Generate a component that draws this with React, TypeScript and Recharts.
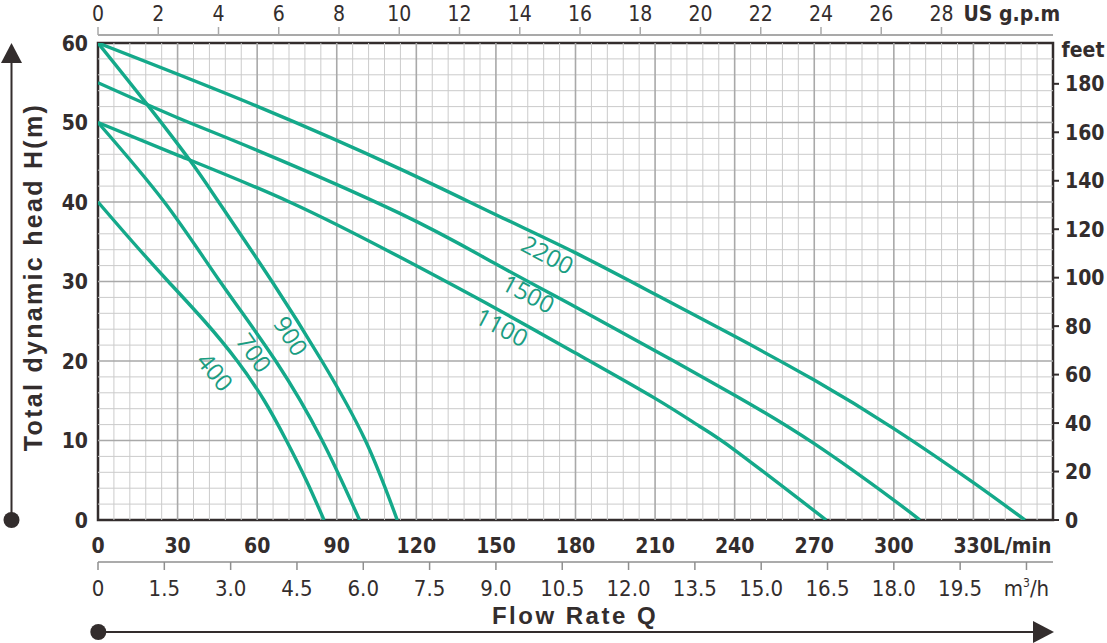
import React from 'react';
import {
  LineChart,
  Line,
  XAxis,
  YAxis,
  ReferenceLine,
  ReferenceArea,
  ReferenceDot,
} from 'recharts';

// pump curves, flow Q in L/min, head H in m
const curve400 = [
  { q: 0, h: 40 }, { q: 13, h: 35 }, { q: 26.5, h: 30 }, { q: 40.2, h: 25 },
  { q: 52.5, h: 20 }, { q: 62.7, h: 15 }, { q: 71, h: 10 }, { q: 78.5, h: 5 },
  { q: 85.2, h: 0 },
];
const curve700 = [
  { q: 0, h: 50 }, { q: 25, h: 40 }, { q: 46, h: 30 }, { q: 67, h: 20 },
  { q: 84.5, h: 10 }, { q: 98.6, h: 0 },
];
const curve900 = [
  { q: 0, h: 60 }, { q: 18.2, h: 52.4 }, { q: 34.5, h: 45.3 }, { q: 45.5, h: 40 },
  { q: 65.6, h: 30 }, { q: 84.4, h: 20 }, { q: 100.8, h: 10 }, { q: 112.8, h: 0 },
];
const curve1100 = [
  { q: 0, h: 50 }, { q: 30, h: 45.9 }, { q: 72.2, h: 40 }, { q: 113.6, h: 33.1 },
  { q: 150, h: 26.6 }, { q: 180, h: 21 }, { q: 210, h: 15.3 }, { q: 226.7, h: 11.8 },
  { q: 240, h: 8.8 }, { q: 274.5, h: 0 },
];
const curve1500 = [
  { q: 0, h: 55 }, { q: 30, h: 50.6 }, { q: 60, h: 46.5 }, { q: 113.6, h: 38.6 },
  { q: 150, h: 32.2 }, { q: 180, h: 26.8 }, { q: 210, h: 21.3 }, { q: 240, h: 15.7 },
  { q: 270, h: 9.6 }, { q: 300, h: 2.5 }, { q: 309.8, h: 0 },
];
const curve2200 = [
  { q: 0, h: 60 }, { q: 60.3, h: 52 }, { q: 113.6, h: 44.2 }, { q: 150, h: 38.4 },
  { q: 180, h: 33.6 }, { q: 210, h: 28.4 }, { q: 240, h: 23.1 }, { q: 270, h: 17.6 },
  { q: 300, h: 11.5 }, { q: 330, h: 4.7 }, { q: 349.4, h: 0 },
];

// curve names and where their labels sit (Q, H, angle)
const curveNames = ['400', '700', '900', '1100', '1500', '2200'];
const curveData = [curve400, curve700, curve900, curve1100, curve1500, curve2200];
const labelQ = [44, 58.7, 72.6, 152.2, 162.2, 169.4];
const labelH = [18.6, 21, 23.1, 24.2, 28.4, 33.3];
const labelAngle = [51, 55, 58, 28, 28, 28];

// axes
const lpmTicks = [0, 30, 60, 90, 120, 150, 180, 210, 240, 270, 300, 330];
const m3hTicks = [0, 1.5, 3, 4.5, 6, 7.5, 9, 10.5, 12, 13.5, 15, 16.5, 18, 19.5, 21];
const gpmTicks = [0, 2, 4, 6, 8, 10, 12, 14, 16, 18, 20, 22, 24, 26, 28];
const headTicks = [0, 10, 20, 30, 40, 50, 60];
const feetTicks = [0, 20, 40, 60, 80, 100, 120, 140, 160, 180];
const minorQ = Array.from({ length: 59 }, (_, i) => (i + 1) * 6).filter((v) => v % 30 !== 0);
const majorQ = lpmTicks.slice(1);
const minorH = Array.from({ length: 29 }, (_, i) => (i + 1) * 2).filter((v) => v % 10 !== 0);
const majorH = headTicks.slice(1, -1);

const Q_MAX = 360; // L/min at the right edge
const LPM_PER_GPM = 11.356;
const M3H_PER_LPM = 0.06;
const FT_PER_M = 3.2808;

// chart-level rows so the unit-only axes get a domain
const flowRows = [...lpmTicks, Q_MAX].map((q) => ({ q }));

const TEAL = '#14a98a';
const LABEL_TEAL = '#1a9d82';
const INK = '#332d2d';
const COND = '"DejaVu Sans Condensed", "Liberation Sans Narrow", sans-serif';
const BOLD = '"Liberation Sans", Arial, sans-serif';

function LeftTick({ x, y, payload }: any) {
  return (
    <text x={x - 2} y={y} dy="0.36em" textAnchor="end" fontFamily={COND} fontWeight={700} fontSize={21} fill={INK}>
      {payload.value}
    </text>
  );
}

function RightTick({ x, y, payload }: any) {
  return (
    <text x={x} y={y} dy="0.36em" textAnchor="start" fontFamily={COND} fontWeight={700} fontSize={21} fill={INK}>
      {payload.value}
    </text>
  );
}

function LpmTick({ x, y, payload }: any) {
  const common = { fontFamily: COND, fontWeight: 700, fontSize: 21, fill: INK };
  if (payload.value === 330) {
    return (
      <text x={x - 20} y={y + 25} textAnchor="start" {...common}>
        330L/min
      </text>
    );
  }
  return (
    <text x={x} y={y + 25} textAnchor="middle" {...common}>
      {payload.value}
    </text>
  );
}

function M3hTick({ x, y, payload }: any) {
  const common = { fontFamily: COND, fontSize: 22, fill: INK };
  if (payload.value === 21) {
    return (
      <text x={x} y={y + 24} textAnchor="middle" {...common}>
        m<tspan dy={-9} fontSize={12}>3</tspan>
        <tspan dy={9}>/h</tspan>
      </text>
    );
  }
  const label = payload.value === 0 ? '0' : payload.value.toFixed(1);
  return (
    <text x={x} y={y + 24} textAnchor="middle" {...common}>
      {label}
    </text>
  );
}

function GpmTick({ x, y, payload }: any) {
  return (
    <g>
      <text x={x} y={y - 4} textAnchor="middle" fontFamily={COND} fontSize={21} fill={INK}>
        {payload.value}
      </text>
      {payload.value === 28 && (
        <text x={x + 22} y={y - 4} textAnchor="start" fontFamily={COND} fontWeight={700} fontSize={21} fill={INK}>
          US g.p.m
        </text>
      )}
    </g>
  );
}

function curveLabel(text: string, angle: number) {
  return (props: any) => {
    const vb = props.viewBox;
    const cx = vb.x + (vb.width || 0) / 2;
    const cy = vb.y + (vb.height || 0) / 2;
    return (
      <text
        x={cx}
        y={cy}
        dy="0.35em"
        textAnchor="middle"
        transform={`rotate(${angle} ${cx} ${cy})`}
        fontFamily='"Open Sans", "Noto Sans", sans-serif'
        fontSize={24}
        fill={LABEL_TEAL}
      >
        {text}
      </text>
    );
  };
}

function Overlay() {
  return (
    <svg width={1107} height={643} style={{ position: 'absolute', left: 0, top: 0, pointerEvents: 'none' }}>
      {/* vertical arrow */}
      <line x1={11.5} y1={520} x2={11.5} y2={60} stroke={INK} strokeWidth={2} />
      <polygon points="1,63 22,63 11.5,43" fill={INK} />
      <circle cx={11.5} cy={520} r={8} fill={INK} />
      <text
        x={33}
        y={277}
        transform="rotate(-90 33 277)"
        textAnchor="middle"
        dominantBaseline="central"
        fontFamily={BOLD}
        fontWeight={700}
        fontSize={25}
        letterSpacing={2.3}
        fill={INK}
      >
        Total dynamic head H(m)
      </text>
      {/* horizontal arrow */}
      <line x1={98} y1={632} x2={1036} y2={632} stroke={INK} strokeWidth={2} />
      <polygon points="1033,621 1033,643 1054,632" fill={INK} />
      <circle cx={98.3} cy={632} r={8} fill={INK} />
      <text x={575} y={615} textAnchor="middle" dominantBaseline="central" fontFamily={BOLD} fontWeight={700} fontSize={24} letterSpacing={2.5} fill={INK}>
        Flow Rate Q
      </text>
      <text x={1083} y={50} textAnchor="middle" dominantBaseline="central" fontFamily={COND} fontWeight={700} fontSize={21} fill={INK}>
        feet
      </text>
    </svg>
  );
}

export default function App() {
  return (
    <div style={{ position: 'absolute', left: 0, top: 0, width: 1107, height: 643, background: '#fff' }}>
      <LineChart width={1107} height={643} data={flowRows} margin={{ top: 0, right: 0, bottom: 0, left: 0 }}>
        <XAxis
          xAxisId="gpm"
          dataKey={(d: any) => d.q / LPM_PER_GPM}
          orientation="top"
          type="number"
          domain={[0, Q_MAX / LPM_PER_GPM]}
          ticks={gpmTicks}
          allowDataOverflow
          height={35}
          interval={0}
          axisLine={{ stroke: '#a9a9a9', strokeWidth: 2 }}
          tickLine={{ stroke: '#a9a9a9', strokeWidth: 1.5 }}
          tickSize={8}
          tick={<GpmTick />}
        />
        <XAxis
          xAxisId="a_spacer"
          dataKey="q"
          orientation="top"
          type="number"
          domain={[0, Q_MAX]}
          height={8}
          tick={false}
          axisLine={false}
          tickLine={false}
        />
        <XAxis
          xAxisId="lpm"
          dataKey="q"
          orientation="bottom"
          type="number"
          domain={[0, Q_MAX]}
          ticks={lpmTicks}
          allowDataOverflow
          height={42}
          interval={0}
          axisLine={false}
          tickLine={false}
          tick={<LpmTick />}
        />
        <XAxis
          xAxisId="m3h"
          dataKey={(d: any) => d.q * M3H_PER_LPM}
          orientation="bottom"
          type="number"
          domain={[0, Q_MAX * M3H_PER_LPM]}
          ticks={m3hTicks}
          allowDataOverflow
          height={81}
          interval={0}
          axisLine={{ stroke: '#8f8f8f', strokeWidth: 1.5 }}
          tickLine={{ stroke: '#8f8f8f', strokeWidth: 1.5 }}
          tickSize={8}
          tick={<M3hTick />}
        />
        <YAxis
          yAxisId="m"
          orientation="left"
          type="number"
          domain={[0, 60]}
          ticks={headTicks}
          allowDataOverflow
          width={98}
          interval={0}
          axisLine={false}
          tickLine={false}
          tick={<LeftTick />}
        />
        <YAxis
          yAxisId="ft"
          orientation="right"
          type="number"
          domain={[0, 60 * FT_PER_M]}
          ticks={feetTicks}
          allowDataOverflow
          width={54}
          interval={0}
          axisLine={false}
          tickLine={{ stroke: INK, strokeWidth: 2 }}
          tickSize={6}
          tickMargin={6}
          tick={<RightTick />}
        />

        {minorQ.map((v) => (
          <ReferenceLine key={`mq${v}`} xAxisId="lpm" yAxisId="m" x={v} stroke="#cbcbcb" strokeWidth={1} />
        ))}
        {minorH.map((v) => (
          <ReferenceLine key={`mh${v}`} xAxisId="lpm" yAxisId="m" y={v} stroke="#cbcbcb" strokeWidth={1} />
        ))}
        {majorQ.map((v) => (
          <ReferenceLine key={`Mq${v}`} xAxisId="lpm" yAxisId="m" x={v} stroke="#a9a9a9" strokeWidth={1.6} />
        ))}
        {majorH.map((v) => (
          <ReferenceLine key={`Mh${v}`} xAxisId="lpm" yAxisId="m" y={v} stroke="#a9a9a9" strokeWidth={1.6} />
        ))}

        {curveData.map((d, i) => (
          <Line
            key={curveNames[i]}
            xAxisId="lpm"
            yAxisId="m"
            data={d}
            dataKey="h"
            type="natural"
            stroke={TEAL}
            strokeWidth={3.4}
            dot={false}
            activeDot={false}
            isAnimationActive={false}
          />
        ))}

        {curveNames.map((name, i) => (
          <ReferenceDot
            key={`lab${name}`}
            xAxisId="lpm"
            yAxisId="m"
            x={labelQ[i]}
            y={labelH[i]}
            r={0}
            fill="none"
            stroke="none"
            label={curveLabel(name, labelAngle[i])}
          />
        ))}

        <ReferenceArea
          xAxisId="lpm"
          yAxisId="m"
          x1={0}
          x2={Q_MAX}
          y1={0}
          y2={60}
          fill="none"
          fillOpacity={0}
          stroke={INK}
          strokeWidth={2.5}
          ifOverflow="visible"
        />
      </LineChart>
      <Overlay />
    </div>
  );
}
